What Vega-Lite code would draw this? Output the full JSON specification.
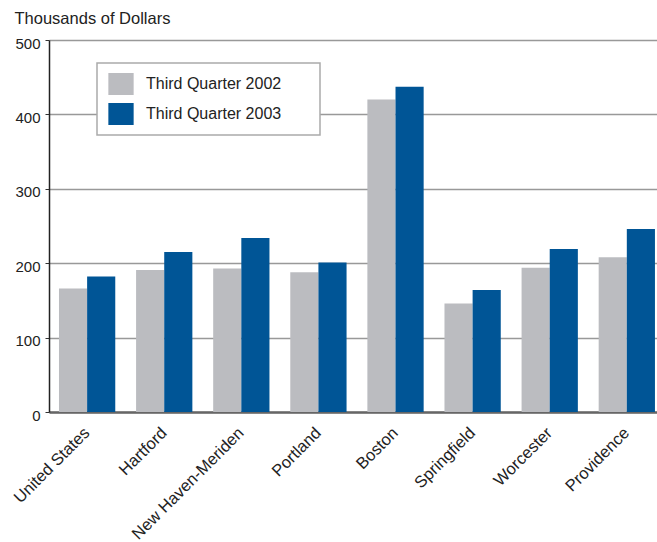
{
  "$schema": "https://vega.github.io/schema/vega-lite/v6.json",
  "autosize": {"type": "none"},
  "padding": {"left": 49, "top": 40, "right": 0, "bottom": 130},
  "width": 608,
  "height": 372,
  "background": "white",
  "data": {
    "values": [
      {"area": "United States", "period": "Third Quarter 2002", "value": 166},
      {"area": "United States", "period": "Third Quarter 2003", "value": 182},
      {"area": "Hartford", "period": "Third Quarter 2002", "value": 191},
      {"area": "Hartford", "period": "Third Quarter 2003", "value": 215},
      {"area": "New Haven-Meriden", "period": "Third Quarter 2002", "value": 193},
      {"area": "New Haven-Meriden", "period": "Third Quarter 2003", "value": 234},
      {"area": "Portland", "period": "Third Quarter 2002", "value": 188},
      {"area": "Portland", "period": "Third Quarter 2003", "value": 201},
      {"area": "Boston", "period": "Third Quarter 2002", "value": 420},
      {"area": "Boston", "period": "Third Quarter 2003", "value": 437},
      {"area": "Springfield", "period": "Third Quarter 2002", "value": 146},
      {"area": "Springfield", "period": "Third Quarter 2003", "value": 164},
      {"area": "Worcester", "period": "Third Quarter 2002", "value": 194},
      {"area": "Worcester", "period": "Third Quarter 2003", "value": 219},
      {"area": "Providence", "period": "Third Quarter 2002", "value": 208},
      {"area": "Providence", "period": "Third Quarter 2003", "value": 246}
    ]
  },
  "mark": {"type": "bar"},
  "encoding": {
    "x": {
      "field": "area",
      "type": "nominal",
      "sort": null,
      "scale": {"paddingInner": 0.27, "paddingOuter": 0.078, "align": 0.83},
      "axis": {
        "title": null,
        "labelAngle": -45,
        "labelAlign": "right",
        "labelBaseline": "middle",
        "labelPadding": 18,
        "ticks": false,
        "labelFont": "Liberation Sans",
        "labelFontSize": 16.5,
        "labelColor": "#222222",
        "domainColor": "#666666",
        "domainWidth": 2.5
      }
    },
    "xOffset": {
      "field": "period",
      "type": "nominal",
      "scale": {"paddingInner": 0, "paddingOuter": 0}
    },
    "y": {
      "field": "value",
      "type": "quantitative",
      "scale": {"domain": [0, 500], "nice": false},
      "axis": {
        "values": [0, 100, 200, 300, 400, 500],
        "title": "Thousands of Dollars",
        "titleAngle": 0,
        "titleAlign": "left",
        "titleBaseline": "middle",
        "titleX": -35,
        "titleY": -22,
        "titleFont": "Liberation Sans",
        "titleFontSize": 16.5,
        "titleFontWeight": "normal",
        "titleColor": "#222222",
        "labelFont": "Liberation Sans",
        "labelFontSize": 15,
        "labelColor": "#222222",
        "labelPadding": 5,
        "labelOffset": 3,
        "tickSize": 4,
        "tickColor": "#333333",
        "domainColor": "#222222",
        "domainWidth": 1.5,
        "gridColor": "#999999",
        "gridWidth": 1.5
      }
    },
    "color": {
      "field": "period",
      "type": "nominal",
      "scale": {"range": ["#BBBCC0", "#005596"]},
      "legend": {
        "title": null,
        "orient": "none",
        "legendX": 48,
        "legendY": 23,
        "direction": "vertical",
        "fillColor": "white",
        "strokeColor": "#AAAAAA",
        "padding": 10,
        "rowPadding": 8,
        "symbolOffset": 3,
        "symbolType": "M-1.15,-1L1.15,-1L1.15,1L-1.15,1Z",
        "symbolSize": 484,
        "symbolStrokeWidth": 0,
        "labelOffset": 14,
        "labelLimit": 300,
        "labelFont": "Liberation Sans",
        "labelFontSize": 16,
        "labelColor": "#222222",
        "labelExpr": "datum.label + '\u00a0\u2800\u2800'",
        "encode": {"legend": {"update": {"strokeWidth": {"value": 1.5}}}}
      }
    }
  },
  "config": {
    "view": {"stroke": null},
    "axis": {"gridCap": "butt"}
  }
}
